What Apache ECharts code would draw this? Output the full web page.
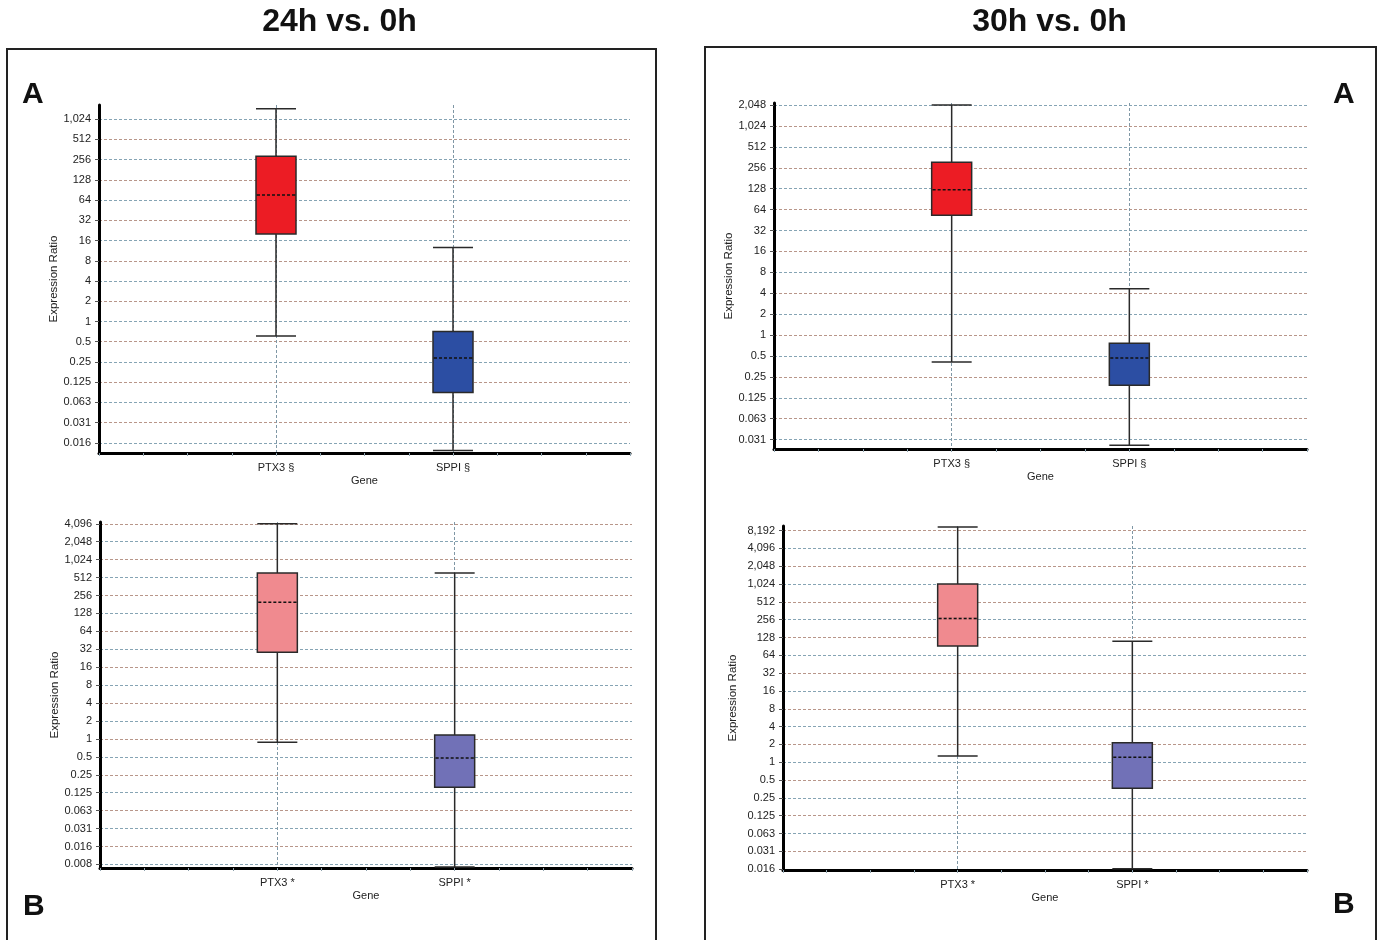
<!DOCTYPE html>
<html>
<head>
<meta charset="utf-8">
<script src="https://cdn.jsdelivr.net/npm/echarts@6/dist/echarts.min.js"></script>
<style>
  html, body { margin: 0; padding: 0; background: #fff; }
  #main { width: 1377px; height: 940px; }
</style>
</head>
<body>
<div id="main"></div>
<script>
const FONT = '"Liberation Sans", Arial, sans-serif';

const GENES = ['PTX3', 'SPPI'];

// box values: [min, Q1, median, Q3, max] of the expression ratio
const PTX3_24A = [0.61, 20, 76, 288, 1460];
const SPPI_24A = [0.012, 0.088, 0.287, 0.71, 12.6];
const PTX3_24B = [0.88, 28.4, 197, 613, 4096];
const SPPI_24B = [0.0071, 0.155, 0.476, 1.16, 613];
const PTX3_30A = [0.41, 53, 124, 309, 2048];
const SPPI_30A = [0.026, 0.19, 0.466, 0.76, 4.64];
const PTX3_30B = [1.28, 92.4, 267, 1030, 9400];
const SPPI_30B = [0.0159, 0.364, 1.21, 2.14, 111];

// y axis range, as powers of two
const RANGE_24A = [-6.5, 10.7];
const RANGE_24B = [-7.2, 12.1];
const RANGE_30A = [-5.45, 11.1];
const RANGE_30B = [-6.05, 13.26];

const SLOTS = 12;     // x axis is split in 12 steps, genes sit every 4
const STEP = 4;

const RED = ['#ec1c24', '#2c4ea3'];
const PALE = ['#f08a8f', '#7171b7'];

const panels = [
  { grid: { left: 99, right: 747, top: 105, bottom: 487 }, range: RANGE_24A, boxes: [PTX3_24A, SPPI_24A], mark: '§', colors: RED, yGap: 39 },
  { grid: { left: 100, right: 745, top: 522, bottom: 72 }, range: RANGE_24B, boxes: [PTX3_24B, SPPI_24B], mark: '*', colors: PALE, yGap: 39 },
  { grid: { left: 774, right: 70, top: 103, bottom: 491 }, range: RANGE_30A, boxes: [PTX3_30A, SPPI_30A], mark: '§', colors: RED, yGap: 37 },
  { grid: { left: 783, right: 70, top: 526, bottom: 70 }, range: RANGE_30B, boxes: [PTX3_30B, SPPI_30B], mark: '*', colors: PALE, yGap: 44 }
];

function fmtRatio(v) {
  if (Math.abs(v - Math.round(v)) > 1e-6) return '';
  const r = Math.pow(2, Math.round(v));
  if (r >= 1) return r.toLocaleString('en-US');
  return String(parseFloat(r.toFixed(3)));
}

const grids = [], xAxes = [], yAxes = [], series = [];

panels.forEach(function (p, i) {
  const labels = {};
  const vColors = [];
  for (let s = 0; s <= SLOTS; s++) vColors.push('rgba(0,0,0,0)');
  GENES.forEach(function (g, k) {
    labels[(k + 1) * STEP] = g + ' ' + p.mark;
    vColors[(k + 1) * STEP] = '#7f97a5';
  });

  grids.push(Object.assign({ outerBoundsMode: 'none', containLabel: false }, p.grid));

  xAxes.push({
    gridIndex: i, type: 'value', min: 0, max: SLOTS, interval: 1,
    name: 'Gene', nameLocation: 'middle', nameGap: 22,
    nameTextStyle: { fontSize: 11, color: '#222', fontFamily: FONT },
    axisLine: { show: true, onZero: false, lineStyle: { color: '#000', width: 3 } },
    axisTick: { show: true, length: 3, lineStyle: { color: '#8fa3ae' } },
    axisLabel: {
      margin: 9, fontSize: 11, color: '#222', fontFamily: FONT,
      formatter: function (v) { return labels[v] || ''; }
    },
    splitLine: { show: true, lineStyle: { color: vColors, type: [3, 2], width: 1 } }
  });

  yAxes.push({
    gridIndex: i, type: 'value', min: p.range[0], max: p.range[1],
    minInterval: 1, maxInterval: 1,
    name: 'Expression Ratio', nameLocation: 'middle', nameGap: p.yGap,
    nameTextStyle: { fontSize: 11.5, color: '#222', fontFamily: FONT },
    axisLine: { show: true, onZero: false, lineStyle: { color: '#000', width: 3 } },
    axisTick: { show: true, length: 4, lineStyle: { color: '#555' } },
    axisLabel: {
      showMinLabel: false, showMaxLabel: false, margin: 8,
      fontSize: 11, color: '#222', fontFamily: FONT, formatter: fmtRatio
    },
    splitLine: {
      show: true, showMinLine: false, showMaxLine: false,
      lineStyle: { color: ['#86a4b4', '#b8968a'], type: [3, 2], width: 1 }
    }
  });

  series.push({
    type: 'boxplot', xAxisIndex: i, yAxisIndex: i,
    boxWidth: [40, 40], silent: true,
    itemStyle: { borderColor: '#2a2a2a', borderWidth: 1.5 },
    data: p.boxes.map(function (b, k) {
      return {
        value: [(k + 1) * STEP].concat(b.map(Math.log2)),
        itemStyle: { color: p.colors[k] }
      };
    })
  });

  // dashed median line drawn on top of the box
  series.push({
    type: 'custom', xAxisIndex: i, yAxisIndex: i, silent: true, z: 5,
    data: p.boxes.map(function (b, k) { return [(k + 1) * STEP, Math.log2(b[2]), k]; }),
    renderItem: function (params, api) {
      const c = api.coord([api.value(0), api.value(1)]);
      const fill = p.colors[api.value(2)];
      const h = 19;
      return {
        type: 'group',
        children: [
          { type: 'line', shape: { x1: c[0] - h, y1: c[1], x2: c[0] + h, y2: c[1] }, style: { stroke: fill, lineWidth: 2.5 } },
          { type: 'line', shape: { x1: c[0] - h, y1: c[1], x2: c[0] + h, y2: c[1] }, style: { stroke: '#111', lineWidth: 1.5, lineDash: [3, 2] } }
        ]
      };
    }
  });
});

function txt(x, y, text, size, align) {
  return {
    type: 'text', x: x, y: y, silent: true,
    style: {
      text: text, font: 'bold ' + size + 'px ' + FONT, fill: '#111',
      align: align, textAlign: align, verticalAlign: 'middle', textVerticalAlign: 'middle'
    }
  };
}

const chart = echarts.init(document.getElementById('main'));
chart.setOption({
  animation: false,
  backgroundColor: '#fff',
  graphic: [
    { type: 'rect', silent: true, shape: { x: 7, y: 49, width: 649, height: 950 }, style: { fill: 'none', stroke: '#222', lineWidth: 2 } },
    { type: 'rect', silent: true, shape: { x: 705, y: 47, width: 671, height: 950 }, style: { fill: 'none', stroke: '#222', lineWidth: 2 } },
    txt(339.5, 22, '24h vs. 0h', 32, 'center'),
    txt(1049.5, 22, '30h vs. 0h', 32, 'center'),
    txt(22, 95, 'A', 30, 'left'),
    txt(23, 907, 'B', 30, 'left'),
    txt(1333, 95, 'A', 30, 'left'),
    txt(1333, 905, 'B', 30, 'left')
  ],
  grid: grids,
  xAxis: xAxes,
  yAxis: yAxes,
  series: series
});
</script>
</body>
</html>
